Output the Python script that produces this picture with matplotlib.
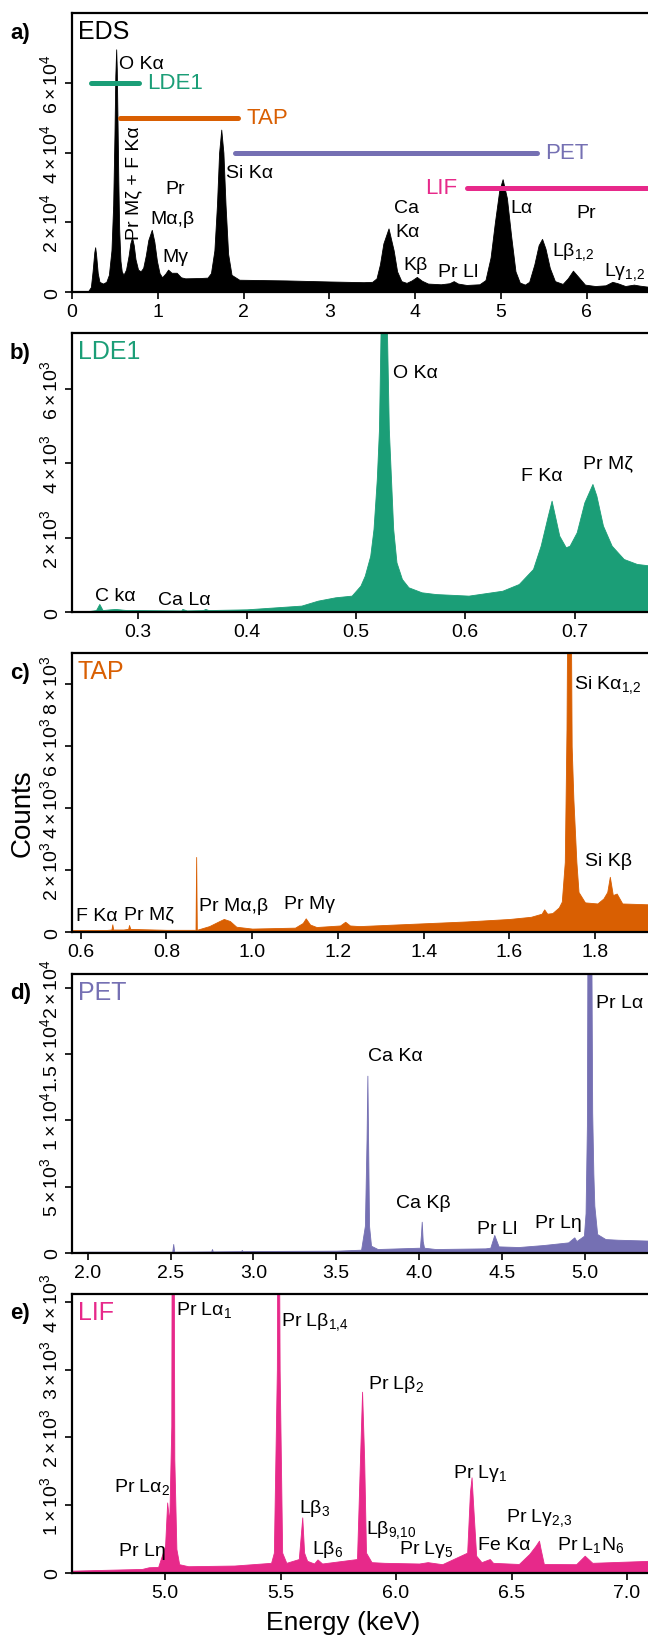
import numpy as np
import matplotlib
matplotlib.use("Agg")
import matplotlib.pyplot as plt

plt.rcParams['font.family'] = ['Liberation Sans', 'DejaVu Sans']
plt.rcParams['mathtext.fontset'] = 'custom'
plt.rcParams['mathtext.rm'] = 'Liberation Sans'
plt.rcParams['mathtext.it'] = 'Liberation Sans:italic'
plt.rcParams['mathtext.default'] = 'regular'

# ---- colours of the four crystals
c_lde, c_tap, c_pet, c_lif = '#1b9e77', '#d95f02', '#7570b3', '#e7298a'

# ---- a) EDS spectrum (keV, counts)
eds_e = [0.0, 0.18, 0.22, 0.24, 0.26, 0.27, 0.28, 0.30, 0.32, 0.36, 0.40, 0.43, 0.46, 0.48, 0.495, 0.505,
         0.515, 0.522, 0.53, 0.54, 0.55, 0.565, 0.58, 0.60, 0.63, 0.66, 0.68, 0.70, 0.72, 0.74, 0.77, 0.80,
         0.83, 0.86, 0.89, 0.93, 0.96, 0.99, 1.02, 1.05, 1.09, 1.12, 1.16, 1.22, 1.27, 1.32, 1.50, 1.58,
         1.62, 1.66, 1.69, 1.715, 1.74, 1.765, 1.79, 1.82, 1.86, 1.95, 2.5, 3.0, 3.4, 3.5, 3.55, 3.59,
         3.63, 3.69, 3.75, 3.79, 3.84, 3.90, 3.96, 4.02, 4.08, 4.15, 4.30, 4.40, 4.45, 4.50, 4.60, 4.75,
         4.82, 4.88, 4.93, 4.98, 5.02, 5.07, 5.12, 5.17, 5.22, 5.28, 5.33, 5.39, 5.44, 5.48, 5.52, 5.57,
         5.63, 5.72, 5.78, 5.84, 5.90, 5.98, 6.10, 6.22, 6.30, 6.36, 6.45, 6.55, 6.62, 6.75]
eds_c = [0, 0, 1500, 6000, 11500, 12900, 11000, 5500, 3000, 2500, 3000, 5000, 12000, 25000, 45000, 62000,
         69600, 64000, 50000, 32000, 18000, 9000, 6000, 5000, 6500, 10500, 14000, 15700, 13500, 9500, 6500, 6000,
         7000, 10500, 15000, 17900, 14500, 9000, 5500, 4300, 5400, 6500, 5600, 5600, 4300, 4000, 4100, 4200,
         5500, 12000, 25000, 40000, 46600, 40000, 25000, 11000, 5000, 3600, 3400, 3100, 2900, 3000, 4000, 8000,
         14000, 18300, 12000, 6000, 3200, 2700, 3400, 4400, 3300, 2500, 2300, 2600, 3200, 2500, 2100, 2300,
         3500, 10000, 20000, 29000, 32400, 27000, 16000, 6000, 2800, 2200, 3000, 8000, 13500, 15300, 12500, 7000,
         3200, 2400, 4000, 6200, 4500, 2200, 1800, 2000, 3000, 2600, 1800, 2200, 1900, 1500]

# crystal ranges drawn in panel a: (name, start keV, end keV, counts level)
wds_names = ['LDE1', 'TAP', 'PET', 'LIF']
wds_start = [0.22, 0.56, 1.90, 4.60]
wds_end = [0.78, 1.94, 5.42, 7.20]
wds_level = [60000, 50000, 40000, 30000]

# ---- b) LDE1
lde_e = [0.24, 0.255, 0.262, 0.265, 0.268, 0.275, 0.28, 0.29, 0.30, 0.34, 0.341, 0.345, 0.36, 0.362, 0.365,
         0.40, 0.45, 0.465, 0.481, 0.496, 0.504, 0.508, 0.513, 0.516, 0.519, 0.521, 0.5227, 0.525, 0.528,
         0.530, 0.532, 0.534, 0.537, 0.542, 0.548, 0.560, 0.573, 0.603, 0.634, 0.649, 0.662, 0.669, 0.6756,
         0.679, 0.682, 0.686, 0.692, 0.6955, 0.702, 0.709, 0.7164, 0.720, 0.726, 0.734, 0.745, 0.757, 0.77]
lde_c = [20, 30, 60, 224, 60, 80, 90, 60, 60, 50, 90, 50, 60, 90, 60,
         80, 180, 313, 403, 448, 716, 985, 1520, 2240, 3580, 4925, 8000, 11000, 8000,
         4925, 3580, 2240, 1343, 895, 672, 537, 490, 448, 580, 760, 1164, 1790, 2600,
         3000, 2600, 2060, 1746, 1790, 2150, 2955, 3448, 3135, 2330, 1790, 1433, 1300, 1254]

# ---- c) TAP
tap_e = [0.58, 0.66, 0.672, 0.674, 0.676, 0.70, 0.711, 0.713, 0.716, 0.80, 0.868, 0.8695, 0.871, 0.90,
         0.924, 0.934, 0.948, 0.963, 1.00, 1.10, 1.118, 1.125, 1.135, 1.15, 1.205, 1.217, 1.228, 1.25, 1.40,
         1.50, 1.60, 1.65, 1.675, 1.681, 1.688, 1.70, 1.715, 1.722, 1.729, 1.733, 1.739, 1.745, 1.749, 1.756,
         1.761, 1.776, 1.805, 1.819, 1.828, 1.834, 1.841, 1.850, 1.863, 1.93]
tap_c = [70, 75, 90, 257, 90, 90, 110, 236, 110, 80, 80, 2430, 80, 200,
         365, 430, 365, 180, 120, 150, 300, 450, 250, 170, 220, 340, 220, 200, 290,
         350, 430, 500, 600, 740, 600, 620, 800, 990, 2270, 6560, 20000, 6000, 4300, 2270,
         1300, 965, 930, 1090, 1300, 1790, 1200, 1250, 930, 900]

# ---- d) PET
pet_e = [1.905, 2.0, 2.51, 2.516, 2.522, 2.745, 2.75, 2.755, 2.925, 2.93, 2.935, 3.0, 3.5, 3.65, 3.673,
         3.683, 3.688, 3.698, 3.710, 3.75, 4.005, 4.012, 4.016, 4.022, 4.03, 4.10, 4.40, 4.43, 4.454, 4.48,
         4.60, 4.75, 4.90, 4.937, 4.95, 4.995, 5.005, 5.013, 5.025, 5.045, 5.052, 5.058, 5.075, 5.125, 5.2, 5.4]
pet_c = [80, 100, 100, 680, 100, 120, 300, 120, 140, 230, 140, 150, 175, 250, 2060,
         8600, 13370, 2060, 550, 300, 400, 1500, 2360, 900, 400, 300, 350, 400, 1360, 500,
         450, 600, 800, 1180, 900, 1300, 3000, 9600, 60000, 10600, 6000, 3570, 1430, 1050, 1000, 930]

# ---- e) LIF
lif_e = [4.6, 4.9, 4.93, 4.97, 5.0, 5.009, 5.018, 5.027, 5.032, 5.04, 5.049, 5.061, 5.1, 5.3, 5.459,
         5.471, 5.484, 5.489, 5.496, 5.507, 5.525, 5.579, 5.594, 5.602, 5.615, 5.645, 5.66, 5.68, 5.831,
         5.844, 5.853, 5.862, 5.87, 5.894, 5.95, 6.1, 6.137, 6.2, 6.308, 6.32, 6.327, 6.335, 6.347, 6.37,
         6.406, 6.42, 6.532, 6.577, 6.604, 6.619, 6.626, 6.64, 6.78, 6.817, 6.85, 7.1]
lif_c = [35, 60, 85, 90, 400, 1040, 750, 2170, 12000, 1680, 354, 130, 100, 110, 150,
         300, 3000, 8000, 3000, 300, 150, 206, 820, 300, 180, 140, 200, 140, 206,
         1680, 2673, 1680, 300, 160, 150, 140, 160, 130, 300, 1190, 1410, 940, 255, 160,
         206, 150, 133, 280, 400, 477, 354, 133, 130, 255, 150, 180]

# ---- panel settings
panel_letters = ['a)', 'b)', 'c)', 'd)', 'e)']
panel_titles = ['EDS', 'LDE1', 'TAP', 'PET', 'LIF']
panel_colors = ['black', c_lde, c_tap, c_pet, c_lif]
panel_x = [eds_e, lde_e, tap_e, pet_e, lif_e]
panel_y = [eds_c, lde_c, tap_c, pet_c, lif_c]
panel_xlim = [(0, 6.75), (0.24, 0.77), (0.58, 1.93), (1.905, 5.40), (4.597, 7.104)]
panel_ylim = [80000, 7505, 9008, 21060, 4118]
panel_xticks = [[0, 1, 2, 3, 4, 5, 6], [0.3, 0.4, 0.5, 0.6, 0.7], [0.6, 0.8, 1.0, 1.2, 1.4, 1.6, 1.8],
                [2.0, 2.5, 3.0, 3.5, 4.0, 4.5, 5.0], [5.0, 5.5, 6.0, 6.5, 7.0]]
panel_xfmt = ['{:.0f}', '{:.1f}', '{:.1f}', '{:.1f}', '{:.1f}']
panel_yticks = [[0, 20000, 40000, 60000], [0, 2000, 4000, 6000], [0, 2000, 4000, 6000, 8000],
                [0, 5000, 10000, 15000, 20000], [0, 1000, 2000, 3000, 4000]]
panel_ylabels = [['0', r'$2\times10^4$', r'$4\times10^4$', r'$6\times10^4$'],
                 ['0', r'$2\times10^3$', r'$4\times10^3$', r'$6\times10^3$'],
                 ['0', r'$2\times10^3$', r'$4\times10^3$', r'$6\times10^3$', r'$8\times10^3$'],
                 ['0', r'$5\times10^3$', r'$1\times10^4$', r'$1.5\times10^4$', r'$2\times10^4$'],
                 ['0', r'$1\times10^3$', r'$2\times10^3$', r'$3\times10^3$', r'$4\times10^3$']]
panel_top_px = [14, 334, 654, 974.7, 1294.7]
panel_h_px = 279.3

# line annotations per panel: (text, keV, counts, ha, rotation)
notes = [
    [('O Kα', 0.553, 65600, 'left', 0), ('Pr Mζ + F Kα', 0.72, 31500, 'center', 90),
     ('Pr', 1.20, 29600, 'center', 0), ('Mα,β', 1.17, 21000, 'center', 0), ('Mγ', 1.21, 10300, 'center', 0),
     ('Si Kα', 1.80, 34300, 'left', 0), ('Ca', 3.90, 24300, 'center', 0), ('Kα', 3.91, 17400, 'center', 0),
     ('Kβ', 4.00, 8100, 'center', 0), ('Pr Ll', 4.50, 5900, 'center', 0), ('Lα', 5.11, 24300, 'left', 0),
     ('Pr', 6.00, 22900, 'center', 0), ('Lβ$_{1{,}2}$', 5.60, 11900, 'left', 0),
     ('Lγ$_{1{,}2}$', 6.20, 6200, 'left', 0)],
    [('O Kα', 0.534, 6450, 'left', 0), ('F Kα', 0.651, 3670, 'left', 0), ('Pr Mζ', 0.708, 4010, 'left', 0),
     ('C kα', 0.261, 450, 'left', 0), ('Ca Lα', 0.319, 340, 'left', 0)],
    [('Si Kα$_{1{,}2}$', 1.751, 8010, 'left', 0), ('Si Kβ', 1.776, 2330, 'left', 0),
     ('F Kα', 0.590, 540, 'left', 0), ('Pr Mζ', 0.702, 610, 'left', 0),
     ('Pr Mα,β', 0.876, 860, 'left', 0), ('Pr Mγ', 1.074, 930, 'left', 0)],
    [('Ca Kα', 3.693, 14880, 'left', 0), ('Ca Kβ', 3.86, 3820, 'left', 0), ('Pr Ll', 4.35, 1860, 'left', 0),
     ('Pr Lη', 4.70, 2310, 'left', 0), ('Pr Lα', 5.07, 18900, 'left', 0)],
    [('Pr Lα$_1$', 5.049, 3890, 'left', 0), ('Pr Lβ$_{1{,}4}$', 5.504, 3720, 'left', 0),
     ('Pr Lβ$_2$', 5.88, 2800, 'left', 0), ('Pr Lα$_2$', 4.779, 1280, 'left', 0),
     ('Pr Lη', 4.80, 330, 'left', 0), ('Lβ$_3$', 5.579, 970, 'left', 0), ('Lβ$_6$', 5.637, 354, 'left', 0),
     ('Lβ$_{9{,}10}$', 5.87, 650, 'left', 0), ('Pr Lγ$_5$', 6.014, 354, 'left', 0),
     ('Pr Lγ$_1$', 6.248, 1480, 'left', 0), ('Fe Kα', 6.356, 413, 'left', 0),
     ('Pr Lγ$_{2{,}3}$', 6.478, 820, 'left', 0), ('Pr L$_1$N$_6$', 6.698, 430, 'left', 0)],
]

W, H = 648, 1640
fig = plt.figure(figsize=(W / 100, H / 100), dpi=100)
left_px = 72

for i in range(5):
    top = panel_top_px[i]
    ax = fig.add_axes([left_px / W, 1 - (top + panel_h_px) / H, (W + 3 - left_px) / W, panel_h_px / H])
    ax.fill_between(panel_x[i], panel_y[i], 0, color=panel_colors[i], lw=0.6,
                    edgecolor=panel_colors[i])
    ax.set_xlim(*panel_xlim[i])
    ax.set_ylim(0, panel_ylim[i])
    ax.set_xticks(panel_xticks[i])
    ax.set_xticklabels([panel_xfmt[i].format(v) for v in panel_xticks[i]])
    ax.set_yticks(panel_yticks[i])
    ax.set_yticklabels(panel_ylabels[i], rotation=90, va='center')
    ax.tick_params(axis='both', direction='out', length=5, width=1.2, labelsize=14, pad=3)
    for s in ax.spines.values():
        s.set_linewidth(1.6)
    ax.text(0.01, 0.935, panel_titles[i], transform=ax.transAxes, fontsize=18,
            color=panel_colors[i], ha='left', va='center')
    fig.text(10 / W, 1 - (top + 19) / H, panel_letters[i], fontsize=16, fontweight='bold',
             ha='left', va='center')
    for txt, xe, yc, ha, rot in notes[i]:
        ax.text(xe, yc, txt, fontsize=14, ha=ha, va='center', rotation=rot)

    if i == 0:
        for name, x0, x1, lev, col in zip(wds_names, wds_start, wds_end, wds_level,
                                          [c_lde, c_tap, c_pet, c_lif]):
            ax.plot([x0, x1], [lev, lev], color=col, lw=3.6, solid_capstyle='round', zorder=3)
            if name == 'LIF':
                ax.text(x0 - 0.11, lev, name, color=col, fontsize=16, ha='right', va='center')
            else:
                ax.text(x1 + 0.09, lev, name, color=col, fontsize=16, ha='left', va='center')

fig.text(22.7 / W, 1 - 812.7 / H, 'Counts', fontsize=20, rotation=90, ha='center', va='center')
fig.text(343 / W, 1 - 1623 / H, 'Energy (keV)', fontsize=19, ha='center', va='center')

fig.savefig('out.png', dpi=100)
